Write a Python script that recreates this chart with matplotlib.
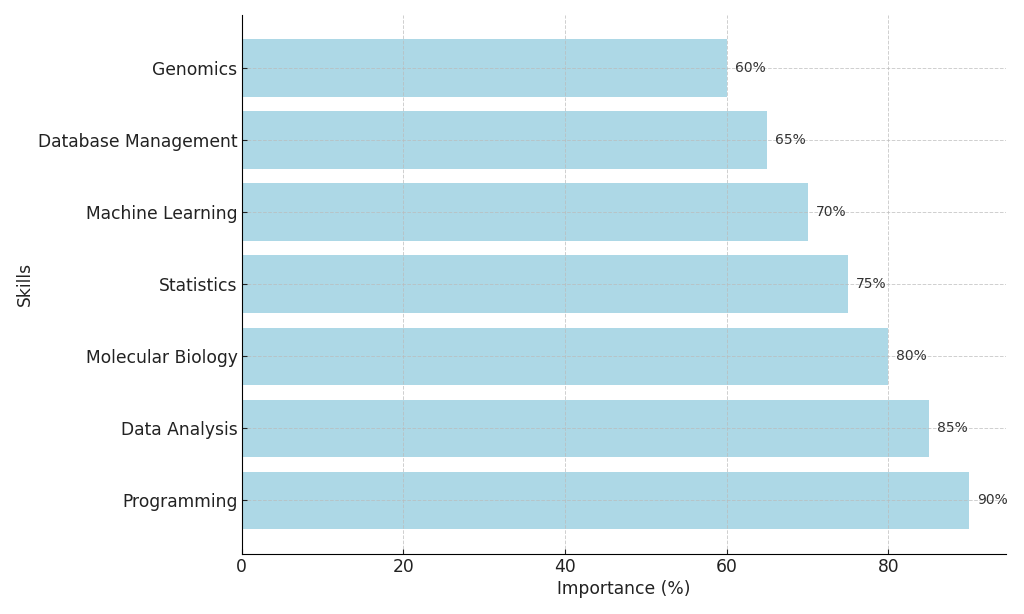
import matplotlib.pyplot as plt

plt.rcParams['font.family'] = ['DejaVu Sans']

skills = ['Programming', 'Data Analysis', 'Molecular Biology', 'Statistics',
          'Machine Learning', 'Database Management', 'Genomics']
importance = [90, 85, 80, 75, 70, 65, 60]

fig = plt.figure(figsize=(10.24, 6.14), dpi=100)
ax = fig.add_axes([0.236, 0.098, 0.746, 0.878])

bars = ax.barh(skills, importance, color='#add8e6')

for bar, v in zip(bars, importance):
    ax.text(bar.get_width() + 1, bar.get_y() + bar.get_height() / 2, f'{v}%',
            va='center', ha='left', fontsize=10, color='#333333')

# grid sits over the bars, faint
ax.grid(True, linestyle='--', color='#bbbbbb', linewidth=0.7, alpha=0.7)
ax.spines['top'].set_visible(False)
ax.spines['right'].set_visible(False)
ax.tick_params(axis='both', direction='in', labelsize=12.3, colors='#222222', pad=3)
ax.set_xlabel('Importance (%)', fontsize=12.3, color='#222222', labelpad=3)
ax.set_ylabel('Skills', fontsize=12.3, color='#222222', labelpad=3)

plt.savefig('out.png', dpi=100)
plt.close()
